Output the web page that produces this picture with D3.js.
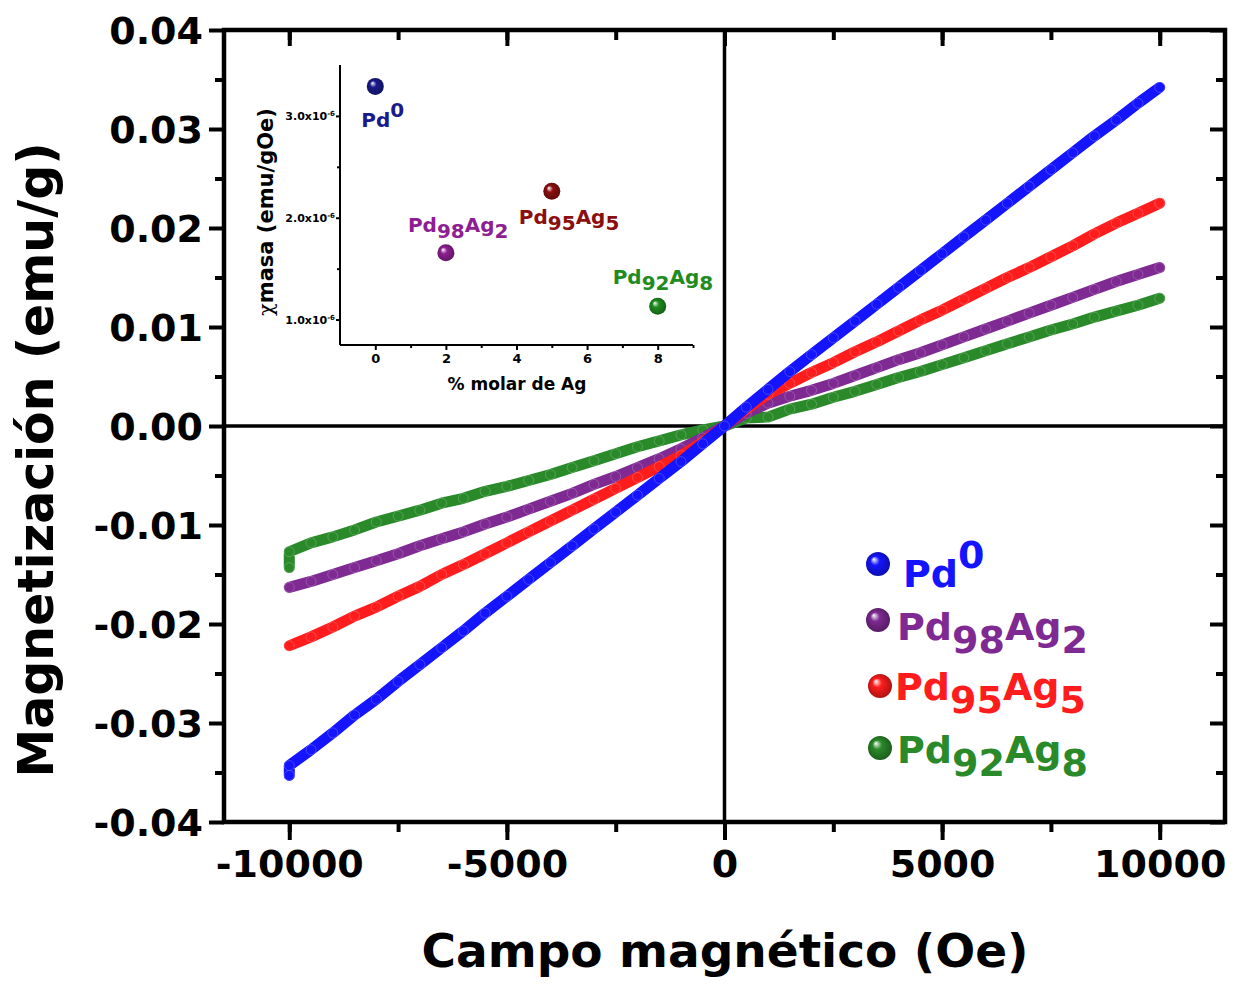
<!DOCTYPE html>
<html>
<head>
<meta charset="utf-8">
<script src="https://cdn.jsdelivr.net/npm/d3@7"></script>
<style>
  body { margin: 0; background: #fff; }
  svg text { font-family: "DejaVu Sans", Verdana, sans-serif; font-weight: bold; }
</style>
</head>
<body>
<div id="chart"></div>
<script>
// Campo magnético (Oe)
const fieldOe = [-10000, -9500, -9000, -8500, -8000, -7500, -7000, -6500, -6000, -5500,
  -5000, -4500, -4000, -3500, -3000, -2500, -2000, -1500, -1000, -500,
  0, 500, 1000, 1500, 2000, 2500, 3000, 3500, 4000, 4500,
  5000, 5500, 6000, 6500, 7000, 7500, 8000, 8500, 9000, 9500, 10000];

// Magnetización (emu/g) for each sample
const pd0 = [-0.0343, -0.0327, -0.0310, -0.0292, -0.0276, -0.0258, -0.0241, -0.0224, -0.0207, -0.0189,
  -0.0172, -0.0155, -0.0138, -0.0121, -0.0104, -0.0087, -0.0070, -0.0053, -0.0036, -0.0018,
  0.0000, 0.0019, 0.0037, 0.0055, 0.0072, 0.0089, 0.0106, 0.0123, 0.0140, 0.0157,
  0.0174, 0.0191, 0.0208, 0.0225, 0.0242, 0.0259, 0.0276, 0.0293, 0.0309, 0.0326, 0.0342];
const pd98ag2 = [-0.0163, -0.0157, -0.0150, -0.0143, -0.0136, -0.0129, -0.0121, -0.0114, -0.0107, -0.0099,
  -0.0092, -0.0084, -0.0076, -0.0068, -0.0059, -0.0051, -0.0042, -0.0033, -0.0023, -0.0012,
  0.0000, 0.0013, 0.0023, 0.0030, 0.0036, 0.0043, 0.0051, 0.0059, 0.0067, 0.0074,
  0.0082, 0.0090, 0.0098, 0.0106, 0.0114, 0.0122, 0.0130, 0.0138, 0.0146, 0.0153, 0.0160];
const pd95ag5 = [-0.0222, -0.0213, -0.0203, -0.0192, -0.0183, -0.0172, -0.0162, -0.0150, -0.0140, -0.0129,
  -0.0118, -0.0107, -0.0096, -0.0085, -0.0074, -0.0063, -0.0052, -0.0041, -0.0030, -0.0016,
  0.0000, 0.0017, 0.0032, 0.0043, 0.0054, 0.0064, 0.0075, 0.0085, 0.0096, 0.0107,
  0.0117, 0.0128, 0.0139, 0.0150, 0.0160, 0.0171, 0.0182, 0.0194, 0.0205, 0.0215, 0.0225];
const pd92ag8 = [-0.0127, -0.0118, -0.0112, -0.0105, -0.0097, -0.0091, -0.0085, -0.0078, -0.0073, -0.0066,
  -0.0061, -0.0055, -0.0049, -0.0042, -0.0035, -0.0028, -0.0021, -0.0015, -0.0009, -0.0004,
  0.0000, 0.0008, 0.0009, 0.0017, 0.0022, 0.0029, 0.0035, 0.0042, 0.0049, 0.0055,
  0.0062, 0.0069, 0.0076, 0.0083, 0.0090, 0.0097, 0.0103, 0.0110, 0.0116, 0.0122, 0.0129];
// first recorded point at -10000 Oe (small hook at the start of the sweep)
const pd0Start = -0.0353;
const pd92ag8Start = -0.0143;

// axis ticks
const xTicks = [-10000, -5000, 0, 5000, 10000];
const xMinorTicks = [-10000, -7500, -5000, -2500, 0, 2500, 5000, 7500, 10000];
const yTicks = [-0.04, -0.03, -0.02, -0.01, 0, 0.01, 0.02, 0.03, 0.04];
const yTickLabels = ["-0.04", "-0.03", "-0.02", "-0.01", "0.00", "0.01", "0.02", "0.03", "0.04"];
const yMinorTicks = [-0.035, -0.025, -0.015, -0.005, 0.005, 0.015, 0.025, 0.035];

// inset: susceptibilidad másica vs % molar de Ag
const agPercent = [0, 2, 5, 8];
const chiMasa = [3.29e-6, 1.655e-6, 2.26e-6, 1.13e-6];
const insetXTicks = [0, 2, 4, 6, 8];
const insetXMinor = [1, 3, 5, 7, 9];
const insetYTicks = [1e-6, 2e-6, 3e-6];
const insetYTickLabels = ["1.0x10", "2.0x10", "3.0x10"];
const insetYMinor = [1.5e-6, 2.5e-6];

// sample names (text, shift) and colours
const sampleLabels = [
  [["Pd", ""], ["0", "sup"]],
  [["Pd", ""], ["98", "sub"], ["Ag", ""], ["2", "sub"]],
  [["Pd", ""], ["95", "sub"], ["Ag", ""], ["5", "sub"]],
  [["Pd", ""], ["92", "sub"], ["Ag", ""], ["8", "sub"]]
];
const curveColors = ["#1414ff", "#7e2a92", "#ff1c1c", "#2a8a2a"];
const insetColors = ["#1a1a8c", "#8e1f92", "#8c0f0f", "#1f8c1f"];

const W = 1233, H = 986;
const svg = d3.select("#chart").append("svg")
  .attr("width", W)
  .attr("height", H);

const defs = svg.append("defs");
function sphereGradient(id, color) {
  const g = defs.append("radialGradient")
    .attr("id", id)
    .attr("cx", "50%").attr("cy", "50%").attr("r", "55%")
    .attr("fx", "32%").attr("fy", "30%");
  g.append("stop").attr("offset", "0%").attr("stop-color", "#ffffff");
  g.append("stop").attr("offset", "35%").attr("stop-color", color);
  g.append("stop").attr("offset", "100%").attr("stop-color", d3.color(color).darker(1.2));
}
curveColors.forEach((c, i) => sphereGradient("leg" + i, c));
insetColors.forEach((c, i) => sphereGradient("ins" + i, c));

// escalas principales
const x = d3.scaleLinear().domain([-11500, 11500]).range([224, 1225]);
const y = d3.scaleLinear().domain([-0.04, 0.04]).range([822, 30]);

// zero lines
svg.append("line")
  .attr("x1", x(0)).attr("x2", x(0)).attr("y1", y(0.04)).attr("y2", y(-0.04))
  .attr("stroke", "#000").attr("stroke-width", 3.5);
svg.append("line")
  .attr("x1", x(-11500)).attr("x2", x(11500)).attr("y1", y(0)).attr("y2", y(0))
  .attr("stroke", "#000").attr("stroke-width", 3.5);

// curvas M(H)
const series = [pd92ag8, pd98ag2, pd95ag5, pd0];
const seriesColorIdx = [3, 1, 2, 0];
const line = d3.line().x(d => x(d[0])).y(d => y(d[1]));

series.forEach((vals, k) => {
  const color = curveColors[seriesColorIdx[k]];
  let pts = fieldOe.map((f, i) => [f, vals[i]]);
  if (vals === pd0) pts = [[-10000, pd0Start]].concat(pts);
  if (vals === pd92ag8) pts = [[-10000, pd92ag8Start]].concat(pts);

  svg.append("path")
    .datum(pts)
    .attr("d", line)
    .attr("fill", "none")
    .attr("stroke", color)
    .attr("stroke-width", 11)
    .attr("stroke-linejoin", "round")
    .attr("stroke-linecap", "round");

  svg.append("g").selectAll("circle")
    .data(pts)
    .join("circle")
    .attr("cx", d => x(d[0]))
    .attr("cy", d => y(d[1]))
    .attr("r", 5)
    .attr("fill", color)
    .attr("stroke", "#ffffff")
    .attr("stroke-opacity", 0.2)
    .attr("stroke-width", 1);
});

// axes
function styleAxis(g, width) {
  g.select(".domain").remove();
  g.selectAll(".tick line").attr("stroke", "#000").attr("stroke-width", width);
  g.selectAll(".tick text").attr("fill", "#000").style("font-size", "38px");
}

// left
const leftAxis = svg.append("g").attr("transform", `translate(${x(-11500)},0)`)
  .call(d3.axisLeft(y).tickValues(yTicks).tickSize(15).tickPadding(6)
    .tickFormat((d, i) => yTickLabels[i]));
styleAxis(leftAxis, 4);
leftAxis.selectAll(".tick text").attr("dy", "0.36em");
const leftMinor = svg.append("g").attr("transform", `translate(${x(-11500)},0)`)
  .call(d3.axisLeft(y).tickValues(yMinorTicks).tickSize(9).tickFormat(""));
styleAxis(leftMinor, 4);

// right (ticks inward)
const rightAxis = svg.append("g").attr("transform", `translate(${x(11500)},0)`)
  .call(d3.axisLeft(y).tickValues(yTicks).tickSize(15).tickFormat(""));
styleAxis(rightAxis, 4);
const rightMinor = svg.append("g").attr("transform", `translate(${x(11500)},0)`)
  .call(d3.axisLeft(y).tickValues(yMinorTicks).tickSize(9).tickFormat(""));
styleAxis(rightMinor, 4);

// bottom
const bottomAxis = svg.append("g").attr("transform", `translate(0,${y(-0.04)})`)
  .call(d3.axisBottom(x).tickValues(xTicks).tickSize(18).tickPadding(10)
    .tickFormat(d => String(d)));
styleAxis(bottomAxis, 4);
const bottomMinor = svg.append("g").attr("transform", `translate(0,${y(-0.04)})`)
  .call(d3.axisBottom(x).tickValues(xMinorTicks).tickSize(10).tickFormat(""));
styleAxis(bottomMinor, 4);

// top (ticks inward)
const topAxis = svg.append("g").attr("transform", `translate(0,${y(0.04)})`)
  .call(d3.axisBottom(x).tickValues(xTicks).tickSize(16).tickFormat(""));
styleAxis(topAxis, 4);
const topMinor = svg.append("g").attr("transform", `translate(0,${y(0.04)})`)
  .call(d3.axisBottom(x).tickValues(xMinorTicks).tickSize(10).tickFormat(""));
styleAxis(topMinor, 4);

// marco
svg.append("rect")
  .attr("x", x(-11500)).attr("y", y(0.04))
  .attr("width", x(11500) - x(-11500))
  .attr("height", y(-0.04) - y(0.04))
  .attr("fill", "none")
  .attr("stroke", "#000")
  .attr("stroke-width", 4.5);

// axis titles
svg.append("text")
  .attr("x", 725).attr("y", 967)
  .attr("text-anchor", "middle")
  .style("font-size", "47px")
  .text("Campo magnético (Oe)");

svg.append("text")
  .attr("transform", "translate(53,460) rotate(-90)")
  .attr("text-anchor", "middle")
  .style("font-size", "49px")
  .text("Magnetización (emu/g)");

// rich label helper (subscripts / superscripts)
function richText(sel, parts, size, subShift, supShift) {
  let current = 0;
  parts.forEach(([t, kind]) => {
    const target = kind === "sub" ? subShift : kind === "sup" ? -supShift : 0;
    sel.append("tspan")
      .attr("dy", target - current)
      .text(t);
    current = target;
  });
  sel.style("font-size", size + "px");
}

// leyenda
const legendDots = [[878, 564], [878, 620], [880, 686], [880, 748]];
const legendText = [[903, 587], [897, 640], [895, 700], [897, 763]];
sampleLabels.forEach((parts, i) => {
  svg.append("circle")
    .attr("cx", legendDots[i][0]).attr("cy", legendDots[i][1])
    .attr("r", 12)
    .attr("fill", `url(#leg${i})`);
  const t = svg.append("text")
    .attr("x", legendText[i][0]).attr("y", legendText[i][1])
    .attr("fill", curveColors[i]);
  richText(t, parts, 38, 13, 19);
});

// ----- inset -----
const ix = d3.scaleLinear().domain([-1, 9]).range([340, 693]);
const iy = d3.scaleLinear().domain([0.75e-6, 3.5e-6]).range([345, 65]);

const inset = svg.append("g");
inset.append("line").attr("x1", ix(-1)).attr("x2", ix(9)).attr("y1", iy(0.75e-6)).attr("y2", iy(0.75e-6))
  .attr("stroke", "#000").attr("stroke-width", 2);
inset.append("line").attr("x1", ix(-1)).attr("x2", ix(-1)).attr("y1", iy(0.75e-6)).attr("y2", iy(3.5e-6))
  .attr("stroke", "#000").attr("stroke-width", 2);

const ixAxis = inset.append("g").attr("transform", `translate(0,${iy(0.75e-6)})`)
  .call(d3.axisBottom(ix).tickValues(insetXTicks).tickSize(5).tickPadding(4).tickFormat(d => String(d)));
ixAxis.select(".domain").remove();
ixAxis.selectAll(".tick line").attr("stroke", "#000").attr("stroke-width", 2);
ixAxis.selectAll(".tick text").attr("fill", "#000").style("font-size", "13px");
const ixMinor = inset.append("g").attr("transform", `translate(0,${iy(0.75e-6)})`)
  .call(d3.axisBottom(ix).tickValues(insetXMinor).tickSize(3).tickFormat(""));
ixMinor.select(".domain").remove();
ixMinor.selectAll(".tick line").attr("stroke", "#000").attr("stroke-width", 2);

const iyAxis = inset.append("g").attr("transform", `translate(${ix(-1)},0)`)
  .call(d3.axisLeft(iy).tickValues(insetYTicks).tickSize(4).tickPadding(3).tickFormat(""));
iyAxis.select(".domain").remove();
iyAxis.selectAll(".tick line").attr("stroke", "#000").attr("stroke-width", 2);
iyAxis.selectAll(".tick").each(function (d, i) {
  const t = d3.select(this).append("text")
    .attr("x", -5).attr("dy", "0.35em")
    .attr("text-anchor", "end")
    .attr("fill", "#000")
    .style("font-size", "11px");
  t.append("tspan").text(insetYTickLabels[i]);
  t.append("tspan").attr("dy", -4).style("font-size", "7px").text("-6");
});
const iyMinor = inset.append("g").attr("transform", `translate(${ix(-1)},0)`)
  .call(d3.axisLeft(iy).tickValues(insetYMinor).tickSize(3).tickFormat(""));
iyMinor.select(".domain").remove();
iyMinor.selectAll(".tick line").attr("stroke", "#000").attr("stroke-width", 2);

inset.append("text")
  .attr("x", 517).attr("y", 390)
  .attr("text-anchor", "middle")
  .style("font-size", "17px")
  .text("% molar de Ag");

const ylab = inset.append("text")
  .attr("transform", "translate(273,212) rotate(-90)")
  .attr("text-anchor", "middle")
  .style("font-size", "21px");
ylab.append("tspan").style("font-family", "'DejaVu Serif', serif").style("font-weight", "normal").text("χ");
ylab.append("tspan").text("masa (emu/gOe)");

// esferas del inset
inset.selectAll(".pt")
  .data(agPercent)
  .join("circle")
  .attr("class", "pt")
  .attr("cx", d => ix(d))
  .attr("cy", (d, i) => iy(chiMasa[i]))
  .attr("r", 8.5)
  .attr("fill", (d, i) => `url(#ins${i})`);

// inset labels placed relative to their points
const insetLabelOffset = [[-14, 41], [-38, -21], [-33, 33], [-45, -22]];
agPercent.forEach((a, i) => {
  const t = inset.append("text")
    .attr("x", ix(a) + insetLabelOffset[i][0])
    .attr("y", iy(chiMasa[i]) + insetLabelOffset[i][1])
    .attr("fill", insetColors[i]);
  richText(t, sampleLabels[i], 20, 6, 10);
});
</script>
</body>
</html>
